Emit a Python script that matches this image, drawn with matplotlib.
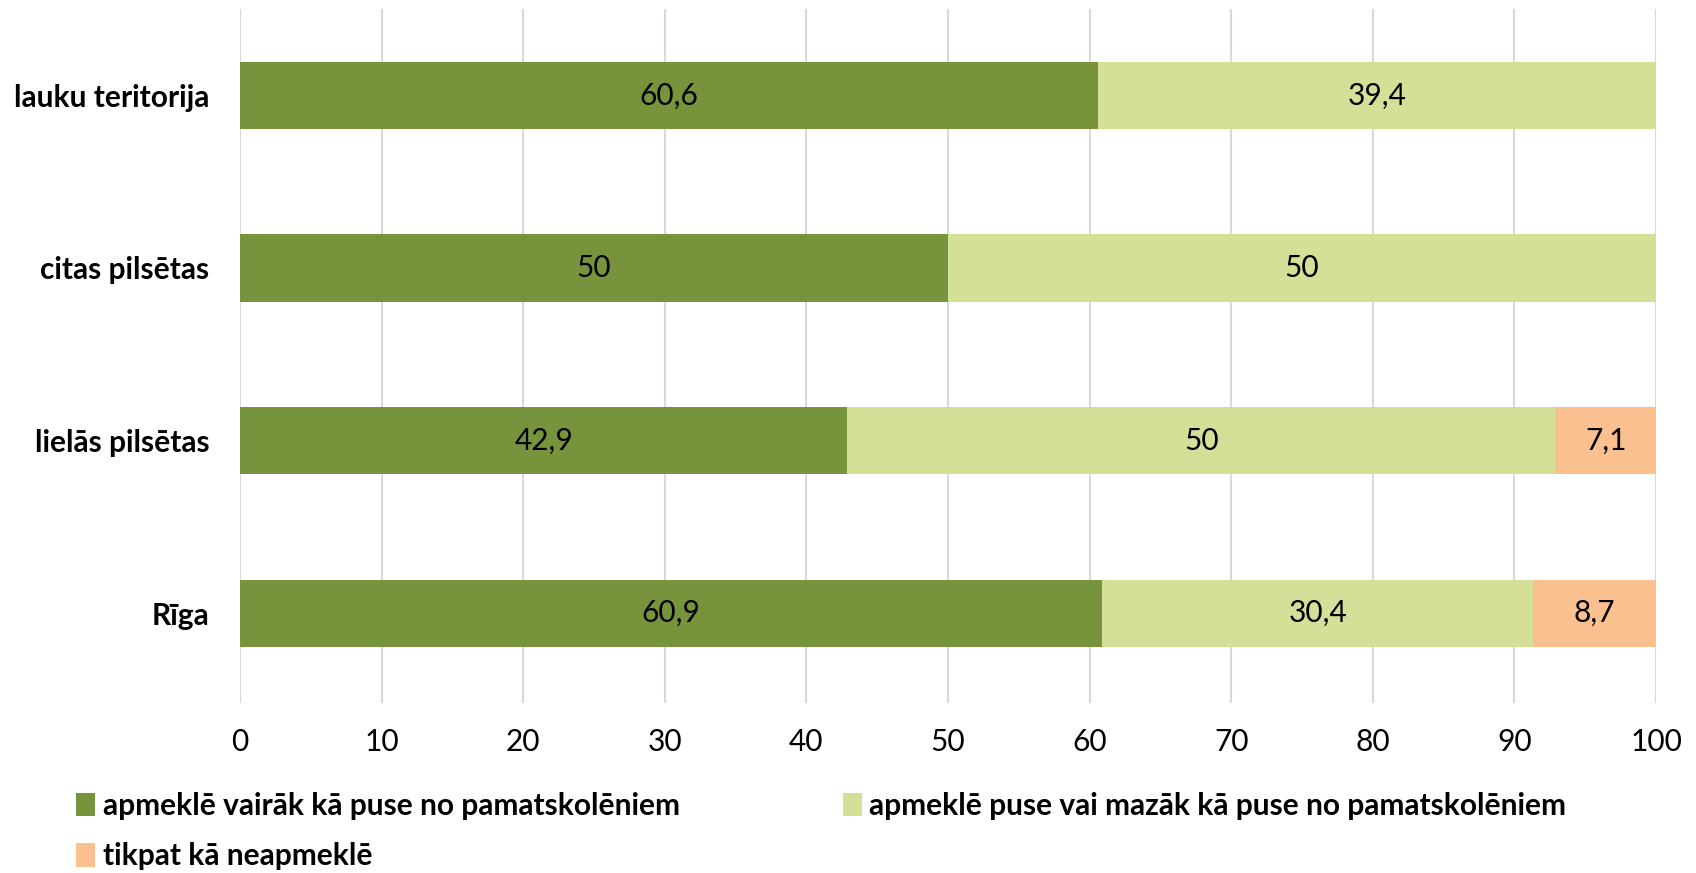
import matplotlib.pyplot as plt
from matplotlib.patches import Patch

# ----------------------------
# Data
# ----------------------------
categories = ["Rīga", "lielās pilsētas", "citas pilsētas", "lauku teritorija"]
more_than_half = [60.9, 42.9, 50, 60.6]
half_or_less = [30.4, 50, 50, 39.4]
hardly_any = [8.7, 7.1, 0, 0]

series_names = [
    "apmeklē vairāk kā puse no pamatskolēniem",
    "apmeklē puse vai mazāk kā puse no pamatskolēniem",
    "tikpat kā neapmeklē",
]
colors = ["#77933C", "#D4DF98", "#FAC090"]
x_ticks = list(range(0, 101, 10))


def fmt(value):
    """Format a number with a decimal comma, dropping .0"""
    if float(value).is_integer():
        return str(int(value))
    return f"{value:.1f}".replace(".", ",")


plt.rcParams["font.family"] = ["Lato", "DejaVu Sans"]
FS = 21.5

fig = plt.figure(figsize=(16.96, 8.73), dpi=100)
ax = fig.add_axes([0.1415, 0.1947, 0.8349, 0.795])

positions = list(range(len(categories)))
left = [0] * len(categories)
for values, color in zip([more_than_half, half_or_less, hardly_any], colors):
    bars = ax.barh(positions, values, left=left, height=0.39, color=color, zorder=2)
    for bar, value in zip(bars, values):
        if value > 0:
            ax.text(bar.get_x() + bar.get_width() / 2, bar.get_y() + bar.get_height() / 2,
                    fmt(value), ha="center", va="center", fontsize=FS, color="black")
    left = [a + b for a, b in zip(left, values)]

ax.set_xlim(0, 100)
ax.set_ylim(-0.52, 3.5)
ax.set_xticks(x_ticks)
ax.set_xticklabels([str(t) for t in x_ticks], fontsize=FS)
ax.set_yticks(positions)
ax.set_yticklabels(categories, fontsize=FS, fontweight="bold")
ax.tick_params(axis="both", length=0)
ax.tick_params(axis="x", pad=18)
ax.tick_params(axis="y", pad=22)
ax.grid(axis="x", color="#D9D9D9", linewidth=1.5, zorder=0)
for spine in ax.spines.values():
    spine.set_visible(False)

# Legend: two columns, row-major order
handles = [Patch(facecolor=c) for c in colors]
leg_kw = dict(frameon=False, handlelength=0.65, handleheight=0.85,
              handletextpad=0.25, labelspacing=0.75, borderpad=0,
              prop={"weight": "bold", "size": FS})
fig.legend([handles[0], handles[2]], [series_names[0], series_names[2]],
           loc="upper left", bbox_to_anchor=(0.036, 0.11), **leg_kw)
fig.legend([handles[1]], [series_names[1]],
           loc="upper left", bbox_to_anchor=(0.488, 0.11), **leg_kw)

fig.savefig("out.png", dpi=100)
